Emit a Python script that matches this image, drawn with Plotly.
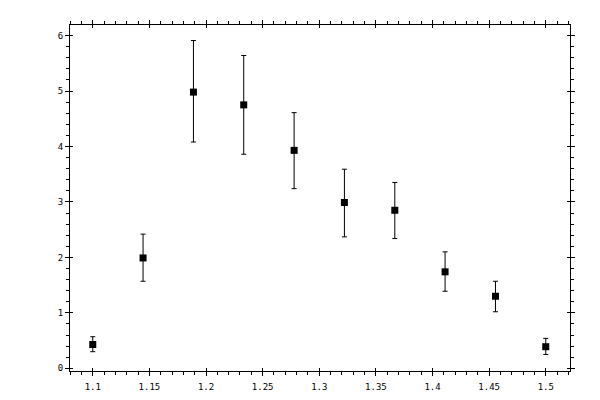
import plotly.graph_objects as go

x_vals = [1.1, 1.1444, 1.1889, 1.2333, 1.2778, 1.3222, 1.3667, 1.4111, 1.4556, 1.5]
y_vals = [0.43, 1.99, 4.98, 4.75, 3.93, 2.99, 2.85, 1.74, 1.30, 0.39]
err_up = [0.14, 0.43, 0.93, 0.89, 0.68, 0.60, 0.50, 0.36, 0.27, 0.15]
err_dn = [0.13, 0.42, 0.90, 0.89, 0.69, 0.62, 0.51, 0.35, 0.28, 0.14]

x_range = [1.0799, 1.5214]
y_range = [-0.048, 6.19]

fig = go.Figure()
fig.add_trace(go.Scatter(
    x=x_vals, y=y_vals, mode="markers",
    marker=dict(symbol="square", size=7, color="black"),
    error_y=dict(type="data", symmetric=False, array=err_up, arrayminus=err_dn,
                 color="black", thickness=1, width=2.5),
    showlegend=False, hoverinfo="skip",
))
# invisible trace for overlay axes (inward major ticks)
fig.add_trace(go.Scatter(x=[x_range[0]], y=[y_range[0]], xaxis="x2", yaxis="y2",
                         mode="markers", marker=dict(opacity=0), showlegend=False,
                         hoverinfo="skip"))

font = dict(family="DejaVu Sans Mono", size=9, color="black")
common = dict(showgrid=False, zeroline=False, showline=True, linecolor="black",
              linewidth=1, mirror="ticks", ticks="outside", ticklen=4,
              tickcolor="black", tickwidth=1, tickfont=font)

fig.update_layout(
    width=600, height=400,
    margin=dict(l=62, r=38, t=13, b=37),
    paper_bgcolor="white", plot_bgcolor="white",
    xaxis=dict(range=x_range, tick0=1.1, dtick=0.05, ticklabelstandoff=3,
               minor=dict(dtick=0.01, ticks="outside", ticklen=3,
                          tickcolor="black", tickwidth=1), **common),
    yaxis=dict(range=y_range, tick0=0, dtick=1,
               minor=dict(dtick=0.2, ticks="outside", ticklen=3,
                          tickcolor="black", tickwidth=1), **common),
    xaxis2=dict(range=x_range, overlaying="x", tick0=1.1, dtick=0.05,
                ticks="inside", ticklen=3, tickcolor="black", tickwidth=1,
                showticklabels=False, showgrid=False, zeroline=False,
                showline=False, mirror="ticks", side="bottom"),
    yaxis2=dict(range=y_range, overlaying="y", tick0=0, dtick=1,
                ticks="inside", ticklen=3, tickcolor="black", tickwidth=1,
                showticklabels=False, showgrid=False, zeroline=False,
                showline=False, mirror="ticks", side="left"),
)

fig.write_html("out.html")
